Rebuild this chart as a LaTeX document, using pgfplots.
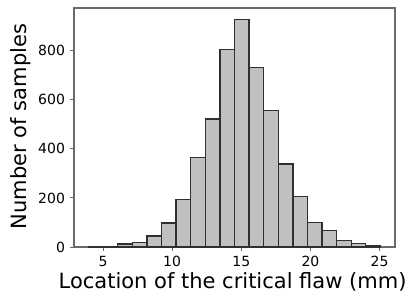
\documentclass[border=0pt]{standalone}
\usepackage{pgfplots}
\pgfplotsset{compat=1.18}
\usepackage{fontspec}
\setmainfont{DejaVu Sans}
\definecolor{barfill}{HTML}{C0C0C0}
\definecolor{baredge}{HTML}{303030}
\definecolor{spine}{HTML}{6A6A6A}
\begin{document}
\begin{tikzpicture}
\path[use as bounding box] (-74pt,-48pt) rectangle (338pt,247pt);
\begin{axis}[at={(0,0)}, anchor=south west, scale only axis,
  width=321pt, height=239pt,
  xmin=2.905, xmax=26.115, ymin=0, ymax=974,
  axis line style={draw=spine, line width=1.3pt},
  tick style={draw=spine, line width=0.9pt},
  tick align=outside, tick pos=left, major tick length=4pt,
  xtick={5,10,...,25}, ytick={0,200,...,800},
  /pgf/number format/assume math mode=true,
  ticklabel style={font=\fontsize{14}{15}\selectfont},
  xticklabel style={yshift=-1.5pt},
  yticklabel style={xshift=-1.5pt},
  xlabel={Location of the critical flaw (mm)},
  ylabel={Number of samples},
  label style={font=\fontsize{21}{24}\selectfont},
  xlabel style={at={(axis description cs:0.494,-0.146)}, anchor=center},
  ylabel style={at={(axis description cs:-0.165,0.504)}, anchor=center},
]
\addplot[ybar interval, fill=barfill, draw=baredge, line width=1.3pt] coordinates {
(3.96,1) (5.015,2) (6.07,12) (7.125,19) (8.18,45) (9.235,98) (10.29,195)
(11.345,365) (12.40,522) (13.455,806) (14.51,928) (15.565,731) (16.62,557)
(17.675,338) (18.73,205) (19.785,100) (20.84,68) (21.895,27) (22.95,15)
(24.005,4) (25.06,0)
};
\end{axis}
\end{tikzpicture}
\end{document}
